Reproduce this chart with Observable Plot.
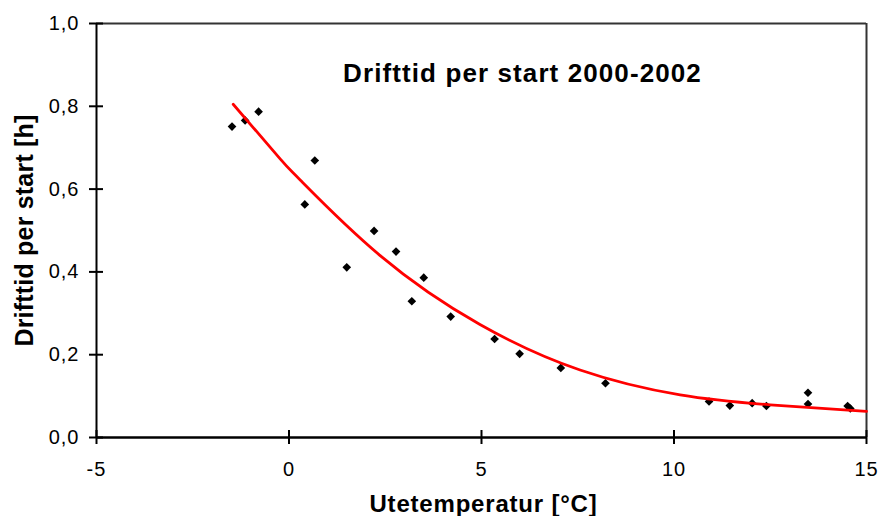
<!DOCTYPE html>
<html>
<head>
<meta charset="utf-8">
<script src="https://cdn.jsdelivr.net/npm/d3@7"></script>
<script src="https://cdn.jsdelivr.net/npm/@observablehq/plot@0.6"></script>
<style>
  html, body { margin: 0; padding: 0; background: white; }
</style>
</head>
<body>
<div id="chart"></div>
<script>
// Measured points: outdoor temperature [°C] and run time per start [h]
const tempX = [-1.48, -1.14, -0.79, 0.67, 0.41, 1.50, 2.21, 2.78, 3.50, 3.19, 4.20, 5.34, 5.99, 7.06, 8.22, 10.91, 11.45, 12.03, 12.40, 13.48, 13.48, 14.51, 14.58];
const timeY = [0.751, 0.766, 0.787, 0.669, 0.563, 0.411, 0.499, 0.449, 0.386, 0.329, 0.292, 0.238, 0.202, 0.168, 0.131, 0.087, 0.077, 0.083, 0.076, 0.108, 0.081, 0.076, 0.070];

// Trend curve, points
const trendX = [-1.45, -0.23, 0.29, 2.36, 4.96, 7.56, 10.16, 12.5, 15];
const trendY = [0.805, 0.673, 0.622, 0.440, 0.273, 0.163, 0.103, 0.079, 0.063];

// Ticks
const xTicks = [-5, 0, 5, 10, 15];
const yTicks = [0, 0.2, 0.4, 0.6, 0.8, 1.0];

const titleText = "Drifttid per start 2000-2002";
const xLabel = "Utetemperatur [°C]";
const yLabel = "Drifttid per start [h]";

const points = tempX.map((x, i) => ({x, y: timeY[i]}));
const trend = trendX.map((x, i) => ({x, y: trendY[i]}));
const fmtY = d => d.toFixed(1).replace(".", ",");

const chart = Plot.plot({
  width: 879,
  height: 516,
  marginLeft: 96,
  marginRight: 13,
  marginTop: 23,
  marginBottom: 79,
  x: {domain: [-5, 15]},
  y: {domain: [0, 1]},
  style: {fontFamily: "'Liberation Sans', Arial, sans-serif", fontSize: "20px", color: "black", background: "white"},
  marks: [
    Plot.ruleY([1], {stroke: "#333", strokeWidth: 2}),
    Plot.ruleX([15], {stroke: "#333", strokeWidth: 2}),
    Plot.ruleY([0], {stroke: "black", strokeWidth: 2.5}),
    Plot.ruleX([-5], {stroke: "black", strokeWidth: 2}),
    Plot.ruleX(xTicks, {x: d => d, y1: 0, y2: 0, insetTop: -7, insetBottom: -7, stroke: "black", strokeWidth: 2}),
    Plot.ruleY(yTicks, {y: d => d, x1: -5, x2: -5, insetLeft: -7, insetRight: -7, stroke: "black", strokeWidth: 2}),
    Plot.axisX({ticks: xTicks, tickSize: 0, tickPadding: 24, tickFormat: d => String(d), label: null}),
    Plot.axisY({ticks: yTicks, tickSize: 0, tickPadding: 17, tickFormat: fmtY, label: null}),
    Plot.dot(points, {x: "x", y: "y", symbol: "diamond2", r: 3.9, fill: "black", stroke: "none"}),
    Plot.line(trend, {x: "x", y: "y", stroke: "#ff0000", strokeWidth: 2.75, curve: "natural"}),
    Plot.text([titleText], {text: d => d, frameAnchor: "top", dx: 41, dy: 50, lineAnchor: "middle", textAnchor: "middle", fontSize: 26, fontWeight: "bold"}),
    Plot.text([xLabel], {text: d => d, frameAnchor: "bottom", dx: 2, dy: 67, lineAnchor: "middle", textAnchor: "middle", fontSize: 24, fontWeight: "bold"}),
    Plot.text([yLabel], {text: d => d, frameAnchor: "left", dx: -72, dy: 0, rotate: -90, lineAnchor: "middle", textAnchor: "middle", fontSize: 25, fontWeight: "bold"})
  ]
});

document.getElementById("chart").appendChild(chart);

const spacing = new Map([
  [titleText, "1.1px"],
  [xLabel, "0.8px"],
  [yLabel, "0.2px"]
]);
xTicks.forEach(t => spacing.set(String(t), "1px"));
yTicks.forEach(t => spacing.set(fmtY(t), "1px"));
chart.querySelectorAll("text").forEach(t => {
  const v = spacing.get(t.textContent);
  if (v) t.style.letterSpacing = v;
});
</script>
</body>
</html>
